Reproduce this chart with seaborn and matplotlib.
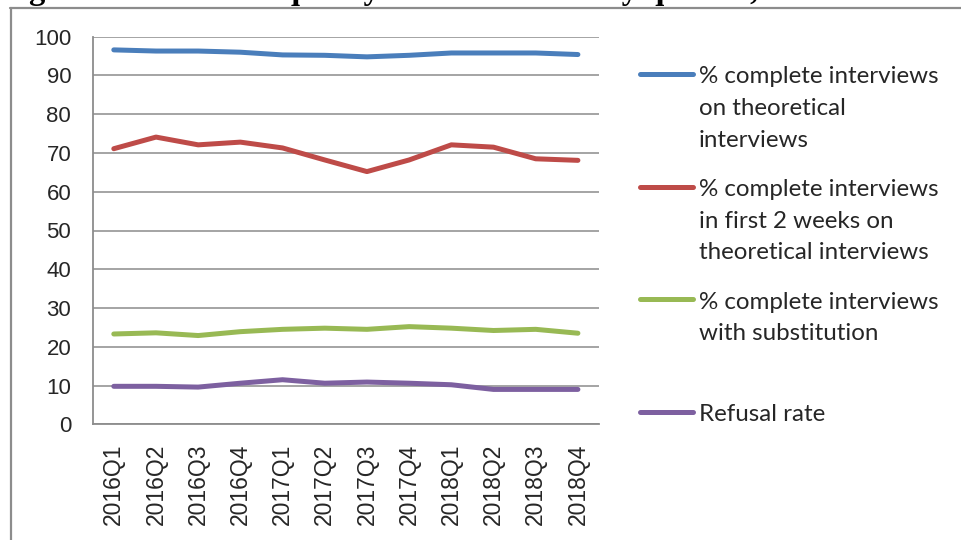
import matplotlib
matplotlib.use("Agg")
import matplotlib.pyplot as plt
from matplotlib.lines import Line2D
import seaborn as sns
import pandas as pd

# ---- data ----
quarters = ["2016Q1", "2016Q2", "2016Q3", "2016Q4", "2017Q1", "2017Q2",
            "2017Q3", "2017Q4", "2018Q1", "2018Q2", "2018Q3", "2018Q4"]
complete_theoretical = [96.6, 96.3, 96.3, 96.0, 95.3, 95.2, 94.8, 95.2, 95.8, 95.8, 95.8, 95.4]
complete_first2weeks = [71.1, 74.1, 72.1, 72.8, 71.3, 68.2, 65.2, 68.2, 72.1, 71.5, 68.5, 68.1]
complete_substitution = [23.3, 23.6, 22.9, 23.9, 24.5, 24.8, 24.5, 25.2, 24.8, 24.2, 24.5, 23.5]
refusal_rate = [9.8, 9.8, 9.6, 10.6, 11.5, 10.6, 10.9, 10.6, 10.2, 9.0, 9.0, 9.0]
yticks = [0, 10, 20, 30, 40, 50, 60, 70, 80, 90, 100]

series_names = ["blue", "red", "green", "purple"]
series_values = [complete_theoretical, complete_first2weeks, complete_substitution, refusal_rate]
legend_labels = [
    ["% complete interviews", "on theoretical", "interviews"],
    ["% complete interviews", "in first 2 weeks on", "theoretical interviews"],
    ["% complete interviews", "with substitution"],
    ["Refusal rate"],
]
colors = {"blue": "#4A7EBB", "red": "#BE4B48", "green": "#98B954", "purple": "#7D60A0"}
title = "Figure 6: LFS main quality LFS indicators by quarter, 2016-2018"

rows = []
for name, vals in zip(series_names, series_values):
    for q, v in zip(quarters, vals):
        rows.append({"quarter": q, "value": v, "series": name})
df = pd.DataFrame(rows)

# ---- figure ----
sns.set_theme(style="white")
plt.rcParams["font.family"] = ["Liberation Sans", "DejaVu Sans"]

W, H = 961, 540
fig = plt.figure(figsize=(W / 100, H / 100), dpi=100)

def fx(px):
    return px / W

def fy(py):
    return 1 - py / H

ax_left, ax_right, ax_top, ax_bottom = 92.7, 599.0, 36.7, 424.3
ax = fig.add_axes([fx(ax_left), fy(ax_bottom), fx(ax_right) - fx(ax_left), (ax_bottom - ax_top) / H])

sns.lineplot(data=df, x="quarter", y="value", hue="series", palette=colors,
             hue_order=series_names, linewidth=3.6, legend=False, ax=ax,
             solid_capstyle="round", solid_joinstyle="round")

grid_col = "#8C8C8C"
text_col = "#262626"
ax.set_ylim(0, 100)
ax.set_xlim(-0.5, len(quarters) - 0.5)
ax.set_yticks(yticks)
ax.set_yticklabels([str(t) for t in yticks])
ax.yaxis.grid(True, color=grid_col, linewidth=1.1)
ax.xaxis.grid(False)
ax.set_axisbelow(True)
ax.set_xlabel("")
ax.set_ylabel("")

ax.set_xticks(range(len(quarters)))
ax.set_xticklabels(quarters, rotation=90, fontsize=16.5, color=text_col)
ax.set_xticks([i - 0.5 for i in range(len(quarters) + 1)], minor=True)
ax.tick_params(axis="x", which="major", length=0, pad=14)
ax.tick_params(axis="x", which="minor", length=6.5, width=1.1, color=grid_col)
ax.tick_params(axis="y", which="major", length=6.5, width=1.1, color=grid_col,
               pad=9, labelsize=16, labelcolor=text_col)

for s in ["top", "right"]:
    ax.spines[s].set_visible(False)
for s in ["left", "bottom"]:
    ax.spines[s].set_color(grid_col)
    ax.spines[s].set_linewidth(1.3)

# ---- legend (drawn manually, Excel-style) ----
handle_y = [74.0, 186.7, 299.3, 411.7]
for name, labels, hy in zip(series_names, legend_labels, handle_y):
    fig.add_artist(Line2D([fx(640), fx(693)], [fy(hy), fy(hy)], color=colors[name],
                          linewidth=3.6, solid_capstyle="round", transform=fig.transFigure))
    for i, line in enumerate(labels):
        fig.text(fx(699), fy(hy + 9.3 + i * 31.7), line, fontsize=17.4,
                 family=["Lato", "DejaVu Sans"], color=text_col,
                 ha="left", va="baseline")

# ---- outer frame (partially visible) ----
frame_col = "#8C8C8C"
fig.add_artist(Line2D([fx(10.5), fx(10.5)], [fy(8), fy(545)], color=frame_col,
                      linewidth=1.6, transform=fig.transFigure))
fig.add_artist(Line2D([fx(10), fx(965)], [fy(8), fy(8)], color=frame_col,
                      linewidth=1.6, transform=fig.transFigure))

# ---- title above the frame, clipped by the top edge as in the source ----
fig.text(fx(0), fy(-1.5), title, fontsize=23.5, fontweight="bold",
         family=["Liberation Serif", "DejaVu Serif"], ha="left", va="baseline",
         color="black")

fig.savefig("out.png", dpi=100)
